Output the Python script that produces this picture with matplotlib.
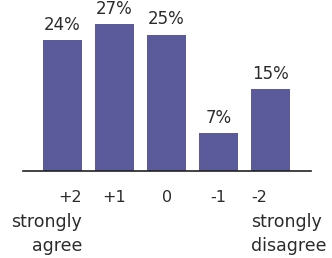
import matplotlib
matplotlib.use("Agg")
import matplotlib.pyplot as plt
import matplotlib.transforms as mtransforms

# data
scale = ["+2", "+1", "0", "-1", "-2"]
word_top = ["strongly", "", "", "", "strongly"]
word_bot = ["agree", "", "", "", "disagree"]
share = [24, 27, 25, 7, 15]

plt.rcParams["font.family"] = ["DejaVu Sans"]

bar_col = "#5b5b9c"
txt_col = "#2b2b2b"

fig = plt.figure(figsize=(3.32, 2.58), dpi=100)
ax = fig.add_axes([0.069, 0.337, 0.867, 0.634])

x = list(range(len(share)))
w = 0.75
ax.bar(x, share, width=w, color=bar_col)
ax.set_xlim(-0.76, len(share) - 1 + 0.77)
ax.set_ylim(0, 30)

for i, v in enumerate(share):
    ax.annotate(f"{v}%", (i, v), xytext=(0, 4.5), textcoords="offset points",
                ha="center", va="bottom", fontsize=12, color=txt_col)

for s in ["top", "right", "left"]:
    ax.spines[s].set_visible(False)
ax.spines["bottom"].set_color("#222222")
ax.spines["bottom"].set_linewidth(1.2)
ax.set_yticks([])
ax.set_xticks([])

trans = mtransforms.blended_transform_factory(ax.transData, ax.transAxes)
for i in range(len(scale)):
    if i == 0:
        xp, ha = i + w / 2, "right"
    elif i == len(scale) - 1:
        xp, ha = i - w / 2, "left"
    else:
        xp, ha = i, "center"
    # (text, size, baseline offset in points)
    for txt, fs, dy in [(scale[i], 11.5, -22.3), (word_top[i], 12.5, -40.3),
                        (word_bot[i], 12.5, -57.6)]:
        if txt:
            ax.annotate(txt, (xp, 0), xycoords=trans, xytext=(0, dy),
                        textcoords="offset points", ha=ha, va="baseline",
                        fontsize=fs, color=txt_col, annotation_clip=False)

fig.savefig("out.png", dpi=100)
